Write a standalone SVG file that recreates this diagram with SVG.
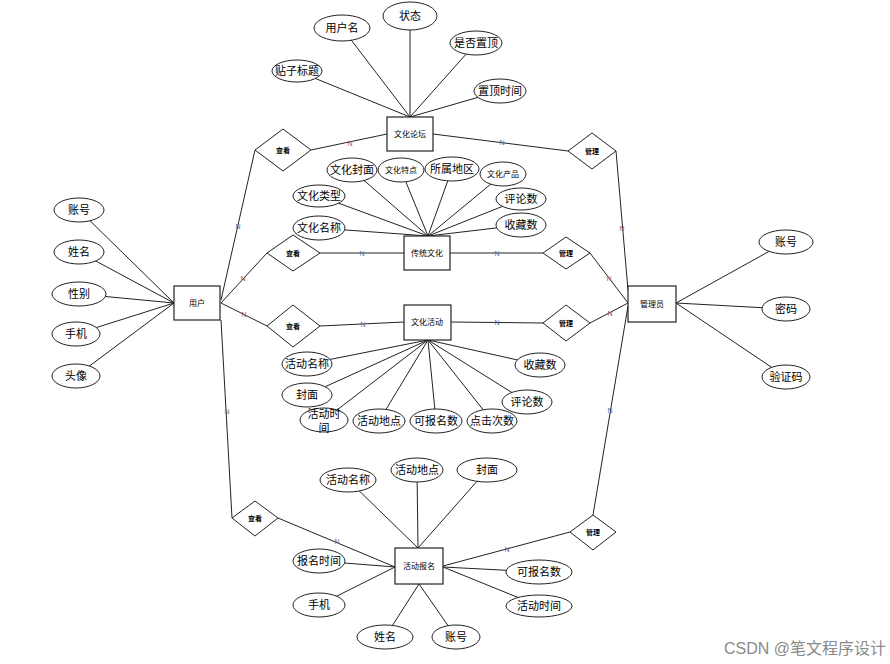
<svg xmlns="http://www.w3.org/2000/svg" width="890" height="664" viewBox="0 0 890 664">
<style>
text{font-family:"Liberation Sans","Noto Sans CJK SC",sans-serif;text-anchor:middle;dominant-baseline:central;fill:#000}
.ln{stroke:#222;stroke-width:1;fill:none}
.ent rect{fill:#fff;stroke:#222;stroke-width:1.2}
.ent text{font-size:8px}
.rel polygon{fill:#fff;stroke:#222;stroke-width:1}
.rel text{font-size:7px;font-weight:bold}
.att ellipse{fill:#fff;stroke:#222;stroke-width:1}
.att text{font-size:11px}
.att text.s{font-size:8px}
.nr{font-size:7px;fill:#a05060}
.nb{font-size:7px;fill:#5070a0}
.wm{font-size:16px;fill:#8a8a8a;text-anchor:start}
</style>
<rect width="890" height="664" fill="#fff"/>
<g id="connectors">
<line class="ln" x1="297" y1="71" x2="410" y2="117"/>
<line class="ln" x1="342" y1="28" x2="410" y2="117"/>
<line class="ln" x1="410" y1="16" x2="410" y2="117"/>
<line class="ln" x1="476" y1="43" x2="410" y2="117"/>
<line class="ln" x1="500" y1="91" x2="410" y2="117"/>
<line class="ln" x1="352" y1="170" x2="428" y2="236"/>
<line class="ln" x1="401" y1="170" x2="428" y2="236"/>
<line class="ln" x1="452" y1="169" x2="428" y2="236"/>
<line class="ln" x1="503" y1="174" x2="428" y2="236"/>
<line class="ln" x1="319" y1="196" x2="428" y2="236"/>
<line class="ln" x1="521" y1="199" x2="428" y2="236"/>
<line class="ln" x1="319" y1="228" x2="428" y2="236"/>
<line class="ln" x1="521" y1="225" x2="428" y2="236"/>
<line class="ln" x1="307" y1="364" x2="428" y2="340"/>
<line class="ln" x1="307" y1="395" x2="428" y2="340"/>
<line class="ln" x1="324" y1="420" x2="428" y2="340"/>
<line class="ln" x1="379" y1="421" x2="428" y2="340"/>
<line class="ln" x1="436" y1="421" x2="428" y2="340"/>
<line class="ln" x1="492" y1="421" x2="428" y2="340"/>
<line class="ln" x1="527" y1="402" x2="428" y2="340"/>
<line class="ln" x1="540" y1="365" x2="428" y2="340"/>
<line class="ln" x1="79" y1="210" x2="174" y2="303"/>
<line class="ln" x1="79" y1="252" x2="174" y2="303"/>
<line class="ln" x1="79" y1="294" x2="174" y2="303"/>
<line class="ln" x1="76" y1="334" x2="174" y2="303"/>
<line class="ln" x1="76" y1="376" x2="174" y2="303"/>
<line class="ln" x1="676" y1="303" x2="786" y2="242"/>
<line class="ln" x1="676" y1="303" x2="786" y2="309"/>
<line class="ln" x1="676" y1="303" x2="786" y2="377"/>
<line class="ln" x1="348" y1="480" x2="418" y2="548"/>
<line class="ln" x1="417" y1="470" x2="418" y2="548"/>
<line class="ln" x1="487" y1="470" x2="418" y2="548"/>
<line class="ln" x1="319" y1="561" x2="395" y2="567"/>
<line class="ln" x1="319" y1="605" x2="395" y2="567"/>
<line class="ln" x1="385" y1="637" x2="419" y2="584"/>
<line class="ln" x1="456" y1="637" x2="419" y2="584"/>
<line class="ln" x1="443" y1="567" x2="539" y2="572"/>
<line class="ln" x1="443" y1="567" x2="539" y2="606"/>
<line class="ln" x1="221" y1="300" x2="255" y2="150"/>
<line class="ln" x1="221" y1="303" x2="267" y2="253"/>
<line class="ln" x1="221" y1="303" x2="267" y2="326"/>
<line class="ln" x1="221" y1="320" x2="232" y2="518"/>
<line class="ln" x1="311" y1="150" x2="387" y2="134"/>
<line class="ln" x1="433" y1="134" x2="568" y2="151"/>
<line class="ln" x1="616" y1="151" x2="628" y2="290"/>
<line class="ln" x1="320" y1="253" x2="404" y2="253"/>
<line class="ln" x1="450" y1="253" x2="543" y2="253"/>
<line class="ln" x1="590" y1="253" x2="628" y2="303"/>
<line class="ln" x1="320" y1="326" x2="404" y2="322"/>
<line class="ln" x1="451" y1="322" x2="543" y2="323"/>
<line class="ln" x1="590" y1="323" x2="628" y2="303"/>
<line class="ln" x1="628" y1="306" x2="593" y2="515"/>
<line class="ln" x1="278" y1="518" x2="395" y2="567"/>
<line class="ln" x1="443" y1="566" x2="570" y2="532"/>
<text class="nb" x="238" y="226">N</text>
<text class="nr" x="243" y="278">N</text>
<text class="nr" x="244" y="314">N</text>
<text class="nb" x="227" y="411">N</text>
<text class="nr" x="350" y="143">N</text>
<text class="nb" x="502" y="142">N</text>
<text class="nr" x="622" y="228">N</text>
<text class="nb" x="362" y="253">N</text>
<text class="nb" x="497" y="253">N</text>
<text class="nr" x="609" y="278">N</text>
<text class="nb" x="363" y="324">N</text>
<text class="nb" x="497" y="322">N</text>
<text class="nr" x="610" y="313">N</text>
<text class="nb" x="610" y="410">N</text>
<text class="nb" x="337" y="541">N</text>
<text class="nb" x="507" y="549">N</text>
</g>
<g id="forum" class="ent"><rect x="387" y="117" width="46" height="34"/><text x="410" y="134">文化论坛</text></g>
<g id="tradition" class="ent"><rect x="404" y="236" width="46" height="34"/><text x="427" y="253">传统文化</text></g>
<g id="activity" class="ent"><rect x="404" y="305" width="47" height="35"/><text x="427" y="322">文化活动</text></g>
<g id="user" class="ent"><rect x="174" y="286" width="46" height="34"/><text x="197" y="303">用户</text></g>
<g id="admin" class="ent"><rect x="628" y="286" width="48" height="36"/><text x="652" y="304">管理员</text></g>
<g id="signup" class="ent"><rect x="395" y="548" width="48" height="36"/><text x="419" y="566">活动报名</text></g>
<g id="view-forum" class="rel"><polygon points="255,150 283,129 311,150 283,171"/><text x="283" y="150">查看</text></g>
<g id="manage-forum" class="rel"><polygon points="568,151 592,133 616,151 592,169"/><text x="592" y="151">管理</text></g>
<g id="view-tradition" class="rel"><polygon points="267,253 293,235 320,253 293,271"/><text x="293" y="253">查看</text></g>
<g id="manage-tradition" class="rel"><polygon points="543,253 566,237 590,253 566,269"/><text x="566" y="253">管理</text></g>
<g id="view-activity" class="rel"><polygon points="267,326 293,305 320,326 293,347"/><text x="293" y="326">查看</text></g>
<g id="manage-activity" class="rel"><polygon points="543,323 566,305 590,323 566,341"/><text x="566" y="323">管理</text></g>
<g id="view-signup" class="rel"><polygon points="232,518 255,501 278,518 255,536"/><text x="255" y="518">查看</text></g>
<g id="manage-signup" class="rel"><polygon points="570,532 593,515 616,532 593,550"/><text x="593" y="532">管理</text></g>
<g id="a-forum-title" class="att"><ellipse cx="297" cy="71" rx="25" ry="11"/><text x="297" y="71">贴子标题</text></g>
<g id="a-forum-user" class="att"><ellipse cx="342" cy="28" rx="28" ry="13"/><text x="342" y="28">用户名</text></g>
<g id="a-forum-status" class="att"><ellipse cx="410" cy="16" rx="27" ry="14"/><text x="410" y="16">状态</text></g>
<g id="a-forum-top" class="att"><ellipse cx="476" cy="43" rx="26" ry="12"/><text x="476" y="43">是否置顶</text></g>
<g id="a-forum-toptime" class="att"><ellipse cx="500" cy="91" rx="26" ry="12"/><text x="500" y="91">置顶时间</text></g>
<g id="a-t-cover" class="att"><ellipse cx="352" cy="170" rx="25" ry="12"/><text x="352" y="170">文化封面</text></g>
<g id="a-t-feature" class="att"><ellipse cx="401" cy="170" rx="23" ry="12"/><text class="s" x="401" y="170">文化特点</text></g>
<g id="a-t-region" class="att"><ellipse cx="452" cy="169" rx="27" ry="12"/><text x="452" y="169">所属地区</text></g>
<g id="a-t-product" class="att"><ellipse cx="503" cy="174" rx="23" ry="12"/><text class="s" x="503" y="174">文化产品</text></g>
<g id="a-t-type" class="att"><ellipse cx="319" cy="196" rx="26" ry="11"/><text x="319" y="196">文化类型</text></g>
<g id="a-t-comments" class="att"><ellipse cx="521" cy="199" rx="25" ry="11"/><text x="521" y="199">评论数</text></g>
<g id="a-t-name" class="att"><ellipse cx="319" cy="228" rx="26" ry="12"/><text x="319" y="228">文化名称</text></g>
<g id="a-t-fav" class="att"><ellipse cx="521" cy="225" rx="25" ry="12"/><text x="521" y="225">收藏数</text></g>
<g id="a-a-name" class="att"><ellipse cx="307" cy="364" rx="25" ry="12"/><text x="307" y="364">活动名称</text></g>
<g id="a-a-cover" class="att"><ellipse cx="307" cy="395" rx="25" ry="12"/><text x="307" y="395">封面</text></g>
<g id="a-a-time" class="att"><ellipse cx="324" cy="420" rx="24" ry="12"/><text x="324" y="414">活动时</text><text x="324" y="428">间</text></g>
<g id="a-a-place" class="att"><ellipse cx="379" cy="421" rx="26" ry="12"/><text x="379" y="421">活动地点</text></g>
<g id="a-a-quota" class="att"><ellipse cx="436" cy="421" rx="26" ry="12"/><text x="436" y="421">可报名数</text></g>
<g id="a-a-clicks" class="att"><ellipse cx="492" cy="421" rx="25" ry="12"/><text x="492" y="421">点击次数</text></g>
<g id="a-a-comments" class="att"><ellipse cx="527" cy="402" rx="25" ry="12"/><text x="527" y="402">评论数</text></g>
<g id="a-a-fav" class="att"><ellipse cx="540" cy="365" rx="25" ry="12"/><text x="540" y="365">收藏数</text></g>
<g id="a-u-account" class="att"><ellipse cx="79" cy="210" rx="25" ry="12"/><text x="79" y="210">账号</text></g>
<g id="a-u-name" class="att"><ellipse cx="79" cy="252" rx="25" ry="12"/><text x="79" y="252">姓名</text></g>
<g id="a-u-gender" class="att"><ellipse cx="79" cy="294" rx="27" ry="12"/><text x="79" y="294">性别</text></g>
<g id="a-u-phone" class="att"><ellipse cx="76" cy="334" rx="24" ry="12"/><text x="76" y="334">手机</text></g>
<g id="a-u-avatar" class="att"><ellipse cx="76" cy="376" rx="24" ry="12"/><text x="76" y="376">头像</text></g>
<g id="a-m-account" class="att"><ellipse cx="786" cy="242" rx="27" ry="12"/><text x="786" y="242">账号</text></g>
<g id="a-m-password" class="att"><ellipse cx="786" cy="309" rx="24" ry="12"/><text x="786" y="309">密码</text></g>
<g id="a-m-code" class="att"><ellipse cx="786" cy="377" rx="24" ry="12"/><text x="786" y="377">验证码</text></g>
<g id="a-s-name" class="att"><ellipse cx="348" cy="480" rx="28" ry="12"/><text x="348" y="480">活动名称</text></g>
<g id="a-s-place" class="att"><ellipse cx="417" cy="470" rx="26" ry="12"/><text x="417" y="470">活动地点</text></g>
<g id="a-s-cover" class="att"><ellipse cx="487" cy="470" rx="30" ry="12"/><text x="487" y="470">封面</text></g>
<g id="a-s-time" class="att"><ellipse cx="319" cy="561" rx="26" ry="12"/><text x="319" y="561">报名时间</text></g>
<g id="a-s-phone" class="att"><ellipse cx="319" cy="605" rx="26" ry="12"/><text x="319" y="605">手机</text></g>
<g id="a-s-uname" class="att"><ellipse cx="385" cy="637" rx="28" ry="12"/><text x="385" y="637">姓名</text></g>
<g id="a-s-account" class="att"><ellipse cx="456" cy="637" rx="24" ry="12"/><text x="456" y="637">账号</text></g>
<g id="a-s-quota" class="att"><ellipse cx="539" cy="572" rx="33" ry="12"/><text x="539" y="572">可报名数</text></g>
<g id="a-s-atime" class="att"><ellipse cx="539" cy="606" rx="33" ry="11"/><text x="539" y="606">活动时间</text></g>
<text class="wm" x="724" y="648">CSDN @笔文程序设计</text>
</svg>
